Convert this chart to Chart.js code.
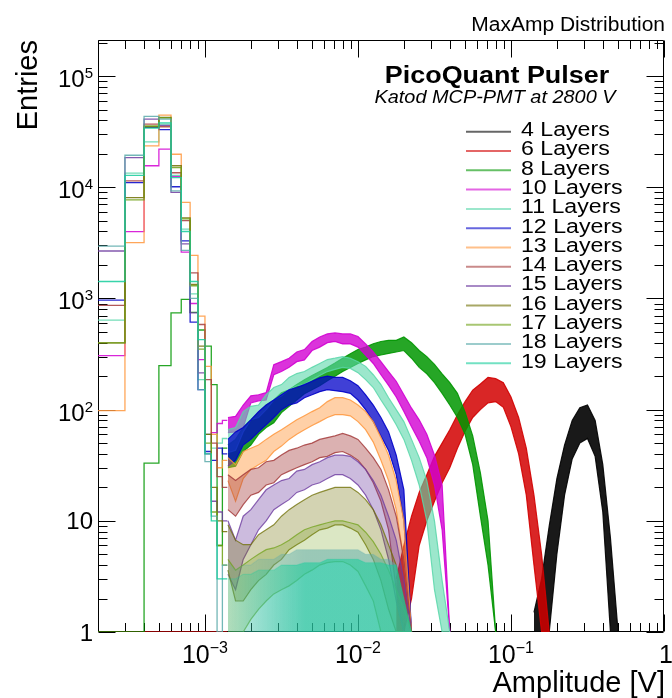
<!DOCTYPE html>
<html><head><meta charset="utf-8">
<script src="https://cdn.jsdelivr.net/npm/chart.js@4/dist/chart.umd.min.js"></script>
<style>html,body{margin:0;padding:0;background:#fff;overflow:hidden}canvas{display:block}</style>
</head><body>
<canvas id="c" width="672" height="698"></canvas>
<script>
const N = null;
const seriesNames = ["4 Layers","6 Layers","8 Layers","10 Layers","11 Layers","12 Layers","13 Layers","14 Layers","15 Layers","16 Layers","17 Layers","18 Layers","19 Layers"];
const seriesColors = ["0,0,0","210,0,0","0,150,0","210,0,210","90,215,170","0,0,200","255,150,60","165,60,60","110,60,160","110,110,0","110,160,20","90,170,170","20,205,155"];
const fillAlpha = [0.9,0.85,0.85,0.8,0.6,0.75,0.45,0.4,0.35,0.3,0.25,0.5,0.55];
const edgeAlpha = [0.9,0.9,0.9,0.9,0.85,0.9,0.85,0.85,0.8,0.75,0.7,0.2,0.25];
const combSeries = [false,false,false,false,false,false,false,false,false,false,false,true,true];

// bin edges (1e-4 V bins) for the pedestal peak
const peakEdges = [0.0002,0.0003,0.0004,0.0005,0.0006,0.0007,0.0008,0.0009,0.0010,0.0011,0.0012,0.0013,0.0014];
const peak6  = [0,0,0,0,0,0,0,0,0,0,0,0];
const peak8  = [0,0,33,249,743,980,750,520,372,168,6,45];
const peak10 = [306,3990,15600,22000,12500,2610,900,282,60,62,75,80];
const peak11 = [638,13400,25600,37000,12800,4200,1100,186,60,45,50,55];
const peak12 = [966,11000,34500,33000,10100,3300,612,151,42,35,45,40];
const peak13 = [98,3180,23600,44500,19800,7300,2440,693,245,60,30,35];
const peak14 = [865,11400,37000,35000,13500,5000,1700,583,186,50,25,20];
const peak15 = [2670,18500,41000,36000,9000,3100,743,214,40,15,12,10];
const peak16 = [399,8080,35000,42400,15600,5300,1340,372,60,20,10,8];
const peak17 = [399,7690,35700,42000,15000,5200,1300,350,50,12,6,4];
const peak18 = [2960,19400,43400,41000,9260,2700,1000,151,34,11,0,4];
const peak19 = [1420,12800,34000,38000,12200,4000,1420,427,40,10,3,3];

// amplitude sample points for the noisy region (upper / lower envelope of the bins)
const ampGrid = [0.001413,0.001585,0.001778,0.001995,0.002239,0.002512,0.002818,0.003162,0.003548,0.003981,
 0.004467,0.005012,0.005623,0.006310,0.007079,0.007943,0.008913,0.01000,0.01122,0.01259,
 0.01413,0.01585,0.01778,0.01995,0.02239,0.02512,0.02818,0.03162,0.03548,0.03981,
 0.04467,0.05012,0.05623,0.06310,0.07079,0.07943,0.08913,0.1000,0.1122,0.1259,
 0.1413,0.1585,0.1778,0.1995,0.2239,0.2512,0.2818,0.3162,0.3548,0.3981,0.4467,0.5012];

const hi4 = [N,N,N,N,N,N,N,N,N,N,N,N,N,N,N,N,N,N,N,N,N,N,N,N,N,N,N,N,N,N,N,N,N,N,N,N,N,N,N,N,
 1.5,3,9,24,48,80,104,110,80,32,7,0];
const lo4 = [N,N,N,N,N,N,N,N,N,N,N,N,N,N,N,N,N,N,N,N,N,N,N,N,N,N,N,N,N,N,N,N,N,N,N,N,N,N,N,N,
 0,0,0,5,17,36,50,55,38,12,0,0];
const hi6 = [N,N,N,N,N,N,N,N,N,N,N,N,N,N,N,N,N,N,N,N,N,N,
 3,6,11,18,26,38,50,66,90,118,150,170,195,190,175,130,85,45,17,5,0];
const lo6 = [N,N,N,N,N,N,N,N,N,N,N,N,N,N,N,N,N,N,N,N,N,N,
 0,0,2,6,10,15,22,30,45,64,85,100,115,118,105,70,40,17,4,0,0];
const hi8 = [48,54,69,81,94,110,122,142,151,168,186,203,220,239,262,290,318,347,365,391,
 410,420,420,450,400,340,300,255,210,175,140,95,58,27,10,0];
const lo8 = [30,31,42,48,60,69,76,94,107,122,139,151,164,182,200,220,239,260,280,300,
 310,320,330,340,290,240,210,175,140,110,85,60,32,11,4,0];
const hi10 = [85,87,110,133,136,142,254,270,290,330,347,410,450,480,490,480,480,455,390,330,
 270,220,180,136,103,81,60,39,21,0];
const lo10 = [62,63,69,115,120,122,206,220,240,270,280,340,365,400,410,390,390,365,310,260,
 206,165,130,96,70,52,37,21,8.3,0];
const hi11 = [66,69,96,107,110,136,158,168,195,211,220,240,260,282,290,300,290,270,245,206,
 168,128,100,78,54,37,23,10,2.9,0];
const lo11 = [41,43,63,81,85,100,122,133,151,164,168,186,203,220,230,240,235,215,186,158,
 122,96,73,54,35,21,10,2.4,0,0];
const hi12 = [54,63,69,81,96,110,122,136,151,158,168,180,193,200,195,195,182,164,136,110,
 85,63,39,19,0];
const lo12 = [31,35,48,54,63,73,85,100,110,115,128,136,145,151,148,145,140,122,100,78,
 58,43,26,10,0];
const hi13 = [37,32,42,45,48,54,60,66,73,81,88,96,104,118,128,128,122,110,96,78,
 56,39,23,10,0];
const lo13 = [23,15,24,29,32,35,42,47,54,60,66,72,78,85,90,90,88,78,66,51,
 35,23,12.6,4.5,0];
const hi14 = [26,23,26,29,30,34,35,39,43,45,48,50,54,56,58,61,58,54,45,37,
 29,19,11,4.5,0];
const lo14 = [12.6,11,14,17,18,21,22,26,28,30,32,34,37,38,41,42,39,35,29,22,
 15,8.3,2.4,0,0];
const hi15 = [10,6.7,11,12.6,15.5,19,21,23,24,28,29,32,34,37,39,39,38,34,29,23,
 17,11,6.7,2.9,0];
const lo15 = [3.3,2.4,4.5,6.1,8.3,10,12.6,14,15.5,18,19,21,22,24,26,26,24,21,17,12.6,
 8.3,4.5,1.9,0,0];
const hi16 = [9.2,6.7,6.1,6.1,7.5,8.3,9.2,11,12.6,14,15.5,17,18,19,20,20,20,18,15.5,12.6,
 9.2,6.1,4,1.9,0];
const lo16 = [3.6,1.9,1.9,2.4,2.9,3.3,4,4.5,5.5,6.1,6.7,7.5,8.3,8.6,9.2,9.2,8.6,7.9,6.1,4.5,
 2.9,1.6,0,0,0];
const hi17 = [4.5,3.6,4,4.5,5,5.5,5.7,6.1,6.7,7.5,8.3,8.8,9.2,9.6,10,10,9.6,9.2,7.9,6.5,
 5,3.6,2.4,1.6,0];
const lo17 = [0,0,0,1.3,1.6,1.9,2.2,2.4,2.6,2.9,3.3,3.6,4,4.2,4.3,4.3,4,3.5,2.6,1.9,
 0,0,0,0,0];
const hi18 = [4.2,3.6,4,4,4.5,4.5,4.5,5,5,5.5,5.5,5.5,5.5,5.5,5.5,5.5,5.5,5.5,5,5,
 4.5,4.5,4,2,0];
const lo18 = [0,0,0,0,0,0,0,0,0,0,0,0,0,0,0,0,0,0,0,0,0,0,0,0,0];
const hi19 = [3,3,3.3,3.3,3.6,3.6,3.6,4,4,4,4.2,4.2,4.2,4.5,4.5,4.5,4.5,4.5,4.2,4.2,
 4.2,4,4,2,0];
const lo19 = [0,0,0,0,0,0,0,0,0,0,0,0,0,0,0,0,0,0,0,0,0,0,0,0,0];

const xTickDecades = [-4,-3,-2,-1,0];
const yTickDecades = [0,1,2,3,4,5];

const series = [
  {peak:null,   hi:hi4,  lo:lo4},
  {peak:peak6,  hi:hi6,  lo:lo6},
  {peak:peak8,  hi:hi8,  lo:lo8},
  {peak:peak10, hi:hi10, lo:lo10},
  {peak:peak11, hi:hi11, lo:lo11},
  {peak:peak12, hi:hi12, lo:lo12},
  {peak:peak13, hi:hi13, lo:lo13},
  {peak:peak14, hi:hi14, lo:lo14},
  {peak:peak15, hi:hi15, lo:lo15},
  {peak:peak16, hi:hi16, lo:lo16},
  {peak:peak17, hi:hi17, lo:lo17},
  {peak:peak18, hi:hi18, lo:lo18},
  {peak:peak19, hi:hi19, lo:lo19}
];

const rgba = (c, a) => `rgba(${c},${a})`;
function combFill(col, a) {
  return (context) => {
    const chart = context.chart;
    if (!chart.chartArea) return rgba(col, a * 0.5);
    const xs = chart.scales.x;
    const g = chart.ctx.createLinearGradient(xs.getPixelForValue(0.0014), 0, xs.getPixelForValue(0.0045), 0);
    g.addColorStop(0, rgba(col, a * 0.25));
    g.addColorStop(1, rgba(col, a));
    return g;
  };
}
const datasets = [];
series.forEach((s, i) => {
  const col = seriesColors[i];
  const order = series.length - 1 - i;
  if (s.peak) {
    const pts = peakEdges.map((x, k) => ({x, y: s.peak[Math.min(k, s.peak.length - 1)]}));
    datasets.push({label: seriesNames[i], data: pts, parsing: false, stepped: 'before',
      borderColor: rgba(col, 0.85), borderWidth: 1.3, pointRadius: 0, fill: false, order});
  }
  const hiPts = ampGrid.map((x, k) => ({x, y: s.hi[k] === undefined ? null : s.hi[k]}));
  const loPts = ampGrid.map((x, k) => ({x, y: s.lo[k] === undefined ? null : s.lo[k]}));
  datasets.push({label: seriesNames[i], data: hiPts, parsing: false, borderColor: rgba(col, edgeAlpha[i]),
    borderWidth: 1.2, pointRadius: 0, fill: false, order});
  datasets.push({label: seriesNames[i], data: loPts, parsing: false, borderColor: rgba(col, edgeAlpha[i]),
    borderWidth: 1.2, pointRadius: 0, fill: '-1',
    backgroundColor: combSeries[i] ? combFill(col, fillAlpha[i]) : rgba(col, fillAlpha[i]), order});
});

const FONT = '"Liberation Sans", Arial, Helvetica, sans-serif';
function scaledText(ctx, txt, x, y, font, sx, align) {
  ctx.save();
  ctx.font = font;
  const w = ctx.measureText(txt).width * sx;
  let x0 = x;
  if (align === 'right') x0 = x - w; else if (align === 'center') x0 = x - w / 2;
  ctx.translate(x0, y);
  ctx.scale(sx, 1);
  ctx.textAlign = 'left';
  ctx.textBaseline = 'alphabetic';
  ctx.fillText(txt, 0, 0);
  ctx.restore();
}
function powLabel(ctx, exp, x, y, align, baseSize, expSize, raise) {
  ctx.save();
  ctx.textAlign = 'left'; ctx.textBaseline = 'alphabetic';
  ctx.font = baseSize + 'px ' + FONT;
  const wb = ctx.measureText('10').width;
  ctx.font = expSize + 'px ' + FONT;
  const we = ctx.measureText(exp).width;
  const tot = wb + we;
  let x0 = align === 'right' ? x - tot : (align === 'center' ? x - tot / 2 : x);
  ctx.font = baseSize + 'px ' + FONT;
  ctx.fillText('10', x0, y);
  ctx.font = expSize + 'px ' + FONT;
  ctx.fillText(exp, x0 + wb, y - raise);
  ctx.restore();
}

const rootDeco = {
  id: 'rootDeco',
  beforeDatasetsDraw(chart) {
    const ctx = chart.ctx, a = chart.chartArea, xs = chart.scales.x, ys = chart.scales.y;
    const L = Math.round(a.left) + 0.5, R = Math.round(a.right) - 0.5, T = Math.round(a.top) + 0.5, B = Math.round(a.bottom) - 0.5;
    ctx.save();
    ctx.strokeStyle = '#000';
    ctx.lineWidth = 1;
    ctx.beginPath();
    ctx.rect(L, T, R - L, B - T);
    ctx.stroke();
    ctx.beginPath();
    xTickDecades.forEach(d => {
      for (let m = 1; m <= 9; m++) {
        const v = m * Math.pow(10, d);
        if (v < xs.min * 0.999 || v > xs.max * 1.001) continue;
        const px = Math.round(xs.getPixelForValue(v)) + 0.5;
        const len = m === 1 ? 17 : 8.5;
        ctx.moveTo(px, B); ctx.lineTo(px, B - len);
        ctx.moveTo(px, T); ctx.lineTo(px, T + len);
      }
    });
    yTickDecades.forEach(d => {
      for (let m = 1; m <= 9; m++) {
        const v = m * Math.pow(10, d);
        if (v < ys.min * 0.999 || v > ys.max * 1.001) continue;
        const py = Math.round(ys.getPixelForValue(v)) + 0.5;
        const len = m === 1 ? 17 : 9;
        ctx.moveTo(L, py); ctx.lineTo(L + len, py);
        ctx.moveTo(R, py); ctx.lineTo(R - len, py);
      }
    });
    ctx.stroke();
    ctx.restore();
  },
  afterDraw(chart) {
    const ctx = chart.ctx, xs = chart.scales.x, ys = chart.scales.y;
    ctx.save();
    ctx.fillStyle = '#000';
    xTickDecades.forEach(d => {
      const v = Math.pow(10, d);
      if (v < xs.min || v > xs.max * 1.001) return;
      const px = xs.getPixelForValue(v);
      if (d === 0) { scaledText(ctx, '1', px + 2, 663, '25px ' + FONT, 1, 'center'); }
      else powLabel(ctx, '\u2212' + (-d), px, 663, 'center', 25, 16, 10);
    });
    yTickDecades.forEach(d => {
      const v = Math.pow(10, d);
      const py = ys.getPixelForValue(v);
      if (d === 0) scaledText(ctx, '1', 93, py + 8.5, '24px ' + FONT, 1, 'right');
      else if (d === 1) scaledText(ctx, '10', 93, py + 8.5, '24px ' + FONT, 1, 'right');
      else powLabel(ctx, String(d), 93, py + 11, 'right', 24, 15, 9);
    });
    scaledText(ctx, 'Amplitude [V]', 665, 692, '29px ' + FONT, 1, 'right');
    ctx.save();
    ctx.translate(37, 40);
    ctx.rotate(-Math.PI / 2);
    scaledText(ctx, 'Entries', 0, 0, '29px ' + FONT, 1, 'right');
    ctx.restore();
    scaledText(ctx, 'MaxAmp Distribution', 665, 31, '20px ' + FONT, 1.05, 'right');
    scaledText(ctx, 'PicoQuant Pulser', 497, 83, 'bold 23px ' + FONT, 1.17, 'center');
    scaledText(ctx, 'Katod MCP-PMT at 2800 V', 495, 103, 'italic 18.6px ' + FONT, 1.07, 'center');
    seriesNames.forEach((name, i) => {
      const ly = 131.7 + 19.3 * i;
      ctx.strokeStyle = rgba(seriesColors[i], 0.6);
      ctx.lineWidth = 2;
      ctx.beginPath(); ctx.moveTo(466, ly); ctx.lineTo(511, ly); ctx.stroke();
      ctx.fillStyle = '#000';
      scaledText(ctx, name, 521, ly + 4.3, '20px ' + FONT, 1.157, 'left');
    });
    ctx.restore();
  }
};

new Chart(document.getElementById('c'), {
  type: 'line',
  data: {datasets},
  options: {
    responsive: false,
    devicePixelRatio: 1,
    animation: false,
    layout: {padding: {left: 98, right: 8, top: 40, bottom: 66}},
    plugins: {legend: {display: false}, tooltip: {enabled: false}, title: {display: false}},
    elements: {line: {tension: 0}},
    scales: {
      x: {type: 'logarithmic', min: 0.0002, max: 1, display: false},
      y: {type: 'logarithmic', min: 1, max: 211000, display: false}
    }
  },
  plugins: [rootDeco]
});
</script>
</body></html>
